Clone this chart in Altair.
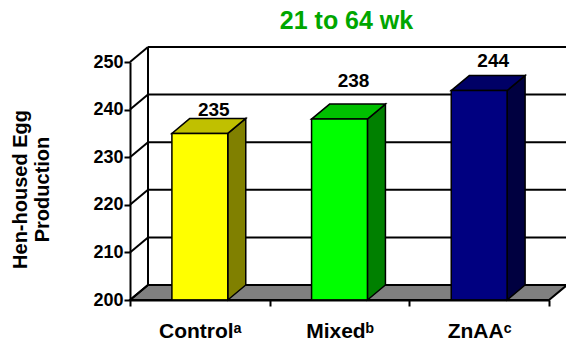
import json

import altair as alt
import pandas as pd

# ---- data -------------------------------------------------------------
categories = ["Control", "Mixed", "ZnAA"]
sig_letters = ["ᵃ", "ᵇ", "ᶜ"]
production = [235, 238, 244]
y_ticks = [200, 210, 220, 230, 240, 250]

chart_title = "21 to 64 wk"
y_title = ["Hen-housed Egg", "Production"]

# ---- styling ----------------------------------------------------------
front_colors = ["#FFFF00", "#00FF00", "#000080"]
side_colors = ["#808000", "#008000", "#000040"]
top_colors = ["#C0C000", "#00C000", "#000066"]
FONT = "Liberation Sans"
TITLE_GREEN = "#00A600"

W, H = 419, 238
N = len(categories)
Y_MIN, Y_MAX = y_ticks[0], y_ticks[-1]
HALF = 0.2                                  # half bar width, in band units
DX = 18 / (W / N)                           # depth offset, x data units
DY = 15 / (H / (Y_MAX - Y_MIN))             # depth offset, y data units

xs = alt.Scale(domain=[0, N], nice=False, zero=False)
ys = alt.Scale(domain=[Y_MIN, Y_MAX], nice=False, zero=False)

cat_labels = [c + s for c, s in zip(categories, sig_letters)]
label_expr = (
    "datum.value % 1 == 0 ? '' : "
    + json.dumps(cat_labels, ensure_ascii=False)
    + "[floor(datum.value)]"
)

# one axis definition per direction, shared by every layer so they merge cleanly
x_axis = alt.Axis(
    values=[k / 2 for k in range(2 * N + 1)],
    labelExpr=label_expr,
    tickOpacity={"condition": {"test": "datum.value % 1 != 0", "value": 0}, "value": 1},
    grid=False, domainColor="black", domainWidth=2,
    tickColor="black", tickWidth=2, tickSize=6,
    labelFont=FONT, labelFontSize=21, labelFontWeight="bold", labelColor="black",
    labelPadding=14, labelFlush=False, labelOverlap=False, zindex=2,
)
y_axis = alt.Axis(
    values=y_ticks, grid=False, domainColor="black", domainWidth=2,
    tickColor="black", tickWidth=2, tickSize=6,
    labelFont=FONT, labelFontSize=18, labelFontWeight="bold", labelColor="black",
    labelPadding=1, labelFlush=False,
    titleFont=FONT, titleFontSize=20, titleFontWeight="bold", titleColor="black",
    titleLineHeight=22, titlePadding=40, titleY=127, zindex=2,
)


def X(field):
    return alt.X(field, scale=xs, axis=x_axis, title=None)


def Y(field):
    return alt.Y(field, scale=ys, axis=y_axis, title=y_title)


# ---- geometry tables built from the arrays ---------------------------
bars = pd.DataFrame({"cat": categories, "value": production})
bars["x0"] = [i + 0.5 - HALF for i in range(N)]
bars["x1"] = [i + 0.5 + HALF for i in range(N)]
bars["xc"] = [i + 0.5 for i in range(N)]
bars["base"] = Y_MIN

side = pd.DataFrame(
    [dict(cat=c, x=x1, lo=Y_MIN, hi=v) for c, x1, v in zip(categories, bars.x1, production)]
    + [dict(cat=c, x=x1 + DX, lo=Y_MIN + DY, hi=v + DY) for c, x1, v in zip(categories, bars.x1, production)]
)
top = pd.DataFrame(
    [dict(cat=c, y=v, a=x0, b=x1) for c, x0, x1, v in zip(categories, bars.x0, bars.x1, production)]
    + [dict(cat=c, y=v + DY, a=x0 + DX, b=x1 + DX) for c, x0, x1, v in zip(categories, bars.x0, bars.x1, production)]
)
floor = pd.DataFrame([dict(y=Y_MIN, a=0, b=N), dict(y=Y_MIN + DY, a=DX, b=N + DX)])
levels = pd.DataFrame({"v": y_ticks})
levels["vb"] = levels.v + DY
levels["x0"] = 0.0
levels["xd"] = DX
levels["xe"] = N + DX

# ---- walls and floor --------------------------------------------------
floor_layer = alt.Chart(floor).mark_area(
    orient="horizontal", fill="#808080", stroke="black", strokeWidth=2
).encode(y=Y("y:Q"), x=X("a:Q"), x2="b:Q")

diagonals = alt.Chart(levels).mark_rule(color="black", strokeWidth=2).encode(
    x=X("x0:Q"), x2="xd:Q", y=Y("v:Q"), y2="vb:Q",
)

back_grid = alt.Chart(levels).transform_filter(
    f"datum.v > {Y_MIN}"
).mark_rule(color="black", strokeWidth=2).encode(
    x=X("xd:Q"), x2="xe:Q", y=Y("vb:Q"),
)

back_edge = alt.Chart(levels).transform_aggregate(
    lo="min(vb)", hi="max(vb)", xd="min(xd)"
).mark_rule(color="black", strokeWidth=2).encode(
    x=X("xd:Q"), y=Y("lo:Q"), y2="hi:Q",
)

# ---- 3-D bars ---------------------------------------------------------
side_layer = alt.Chart(side).mark_area(
    orient="vertical", stroke="black", strokeWidth=1.5, opacity=1
).encode(
    x=X("x:Q"), y=Y("lo:Q"), y2="hi:Q",
    fill=alt.Fill("cat:N", scale=alt.Scale(domain=categories, range=side_colors), legend=None),
    detail="cat:N",
)

top_layer = alt.Chart(top).mark_area(
    orient="horizontal", stroke="black", strokeWidth=1.5, opacity=1
).encode(
    y=Y("y:Q"), x=X("a:Q"), x2="b:Q",
    fill=alt.Fill("cat:N", scale=alt.Scale(domain=categories, range=top_colors), legend=None),
    detail="cat:N",
)

front_layer = alt.Chart(bars).mark_rect(stroke="black", strokeWidth=1.5).encode(
    x=X("x0:Q"), x2="x1:Q", y=Y("base:Q"), y2="value:Q",
    fill=alt.Fill("cat:N", scale=alt.Scale(domain=categories, range=front_colors), legend=None),
)

# ---- value labels above each bar -------------------------------------
label_lift = {"Control": -17, "Mixed": -32, "ZnAA": -24}
value_labels = [
    alt.Chart(bars).transform_filter(alt.datum.cat == c).mark_text(
        font=FONT, fontSize=19, fontWeight="bold", color="black",
        baseline="alphabetic", align="center", dx=14, dy=label_lift[c],
    ).encode(
        x=X("xc:Q"), y=Y("value:Q"),
        text=alt.Text("value:Q", format="d"),
    )
    for c in categories
]

chart = alt.layer(
    floor_layer, diagonals, back_grid, back_edge,
    side_layer, top_layer, front_layer, *value_labels,
).resolve_scale(
    fill="independent"
).properties(
    width=W, height=H,
    background="white",
    title=alt.TitleParams(
        chart_title, font=FONT, fontSize=25, fontWeight="bold", color=TITLE_GREEN,
        anchor="middle", frame="group", dx=7, offset=12,
    ),
    autosize=alt.AutoSizeParams(type="none"),
    padding={"left": 130, "top": 62, "right": 17, "bottom": 43},
).configure_view(stroke=None)

chart.save("out.html", embed_options={"renderer": "svg", "actions": False})
